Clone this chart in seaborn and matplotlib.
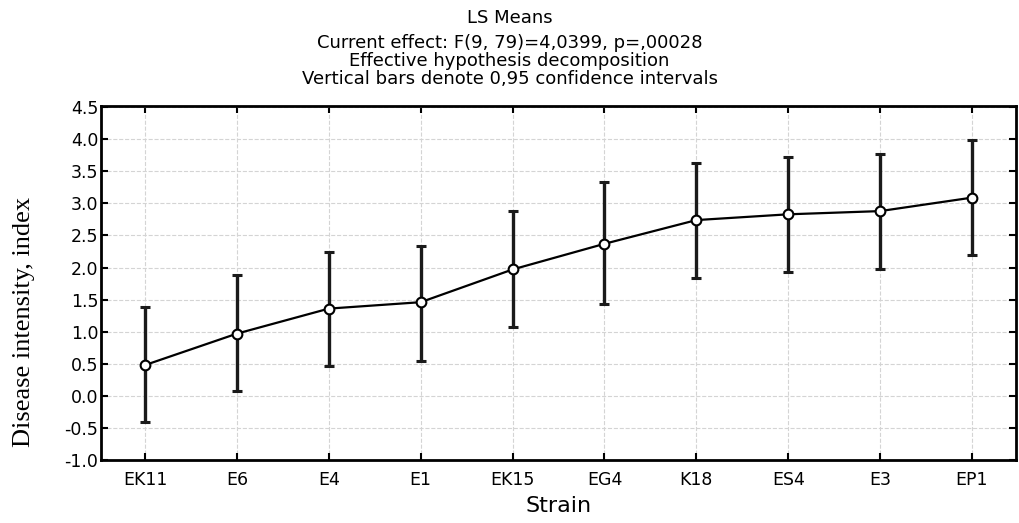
import matplotlib
matplotlib.use("Agg")
import matplotlib.pyplot as plt
import seaborn as sns
import numpy as np
import pandas as pd

strains = ["EK11", "E6", "E4", "E1", "EK15", "EG4", "K18", "ES4", "E3", "EP1"]
means = [0.48, 0.97, 1.36, 1.46, 1.97, 2.37, 2.74, 2.83, 2.88, 3.09]
upper = [1.38, 1.88, 2.25, 2.34, 2.88, 3.33, 3.63, 3.73, 3.77, 3.99]
lower = [-0.41, 0.08, 0.47, 0.55, 1.08, 1.43, 1.83, 1.93, 1.97, 2.19]
yticks = [-1.0, -0.5, 0.0, 0.5, 1.0, 1.5, 2.0, 2.5, 3.0, 3.5, 4.0, 4.5]

sns.set_theme(style="white")
plt.rcParams['font.family'] = ['DejaVu Sans']
plt.rcParams['text.color'] = 'black'
plt.rcParams['axes.labelcolor'] = 'black'
plt.rcParams['xtick.color'] = 'black'
plt.rcParams['ytick.color'] = 'black'

df = pd.DataFrame({"Strain": strains, "mean": means, "lo": lower, "hi": upper})
df["pos"] = np.arange(len(df))

fig = plt.figure(figsize=(10.19, 5.23), dpi=100)
ax = fig.add_axes([0.0991, 0.1205, 0.898, 0.677])

ax.grid(True, color="#d4d4d4", linestyle="--", linewidth=0.8)
ax.set_axisbelow(True)

yerr = np.vstack([df["mean"] - df["lo"], df["hi"] - df["mean"]])
ax.errorbar(df["pos"], df["mean"], yerr=yerr, fmt="none", ecolor="#1a1a1a",
            elinewidth=2.4, capsize=3.8, capthick=2.2, zorder=2)
sns.lineplot(data=df, x="pos", y="mean", ax=ax, color="black", linewidth=1.6,
             marker="o", markersize=7, markerfacecolor="white",
             markeredgecolor="black", markeredgewidth=1.5, zorder=3)

ax.set_xlim(-0.48, 9.48)
ax.set_ylim(-1.0, 4.52)
ax.set_xticks(df["pos"])
ax.set_xticklabels(strains, fontsize=12.5)
ax.set_yticks(yticks)
ax.set_yticklabels([f"{v:.1f}" for v in yticks], fontsize=12.5)
ax.tick_params(axis="both", direction="in", length=5, width=1.5, color="black",
               labelcolor="black", top=True, bottom=True, left=True, right=True)
ax.tick_params(axis="x", pad=8)
ax.tick_params(axis="y", pad=2)

for s in ax.spines.values():
    s.set_color("black")
    s.set_linewidth(2)

ax.set_xlabel("Strain", fontsize=16, labelpad=5, color="black")
ax.set_ylabel("Disease intensity, index", fontsize=19, color="black",
              family=["Liberation Serif", "DejaVu Serif"])
ax.yaxis.set_label_coords(-0.072, 0.39)

fig.text(0.5, 0.9656, "LS Means", ha="center", va="center", fontsize=13, color="black")
fig.text(0.5, 0.9178, "Current effect: F(9, 79)=4,0399, p=,00028", ha="center", va="center", fontsize=13, color="black")
fig.text(0.5, 0.8834, "Effective hypothesis decomposition", ha="center", va="center", fontsize=13, color="black")
fig.text(0.5, 0.849, "Vertical bars denote 0,95 confidence intervals", ha="center", va="center", fontsize=13, color="black")

fig.savefig("out.png", dpi=100)
